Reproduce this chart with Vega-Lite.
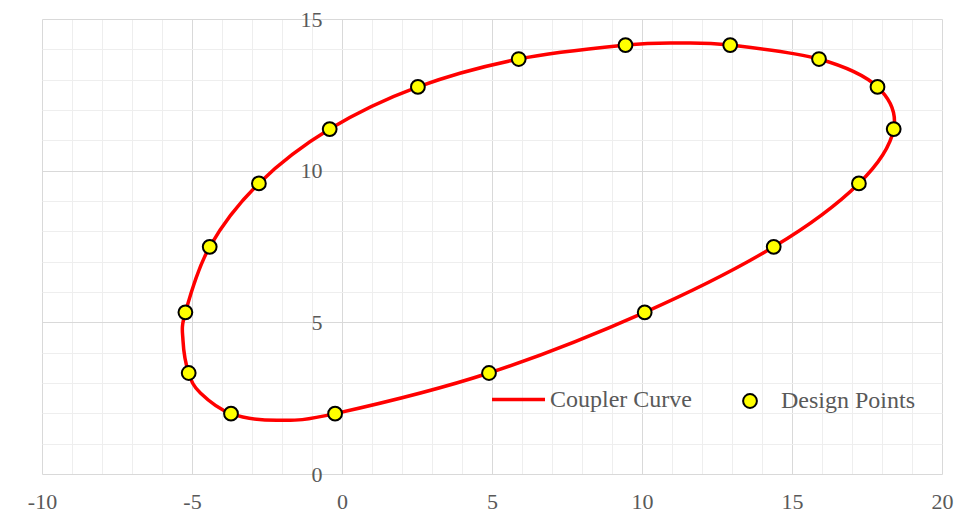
{
  "$schema": "https://vega.github.io/schema/vega-lite/v6.json",
  "width": 900,
  "height": 455,
  "autosize": "none",
  "padding": {"left": 42, "top": 19, "right": 18, "bottom": 43},
  "background": "white",
  "config": {
    "view": {"stroke": null},
    "font": "Liberation Serif",
    "axis": {"labelFont": "Liberation Serif", "labelFontSize": 22, "labelColor": "#595959", "ticks": false, "domain": false, "title": null, "labelFlush": false, "labelOverlap": false}
  },
  "datasets": {
    "curve": [
      {"o": 1, "x": -0.23, "y": 1.99},
      {"o": 2, "x": -2.17, "y": 1.77},
      {"o": 3, "x": -3.70, "y": 1.99},
      {"o": 4, "x": -4.72, "y": 2.67},
      {"o": 5, "x": -5.11, "y": 3.33},
      {"o": 6, "x": -5.30, "y": 4.40},
      {"o": 7, "x": -5.22, "y": 5.33},
      {"o": 8, "x": -4.41, "y": 7.49},
      {"o": 9, "x": -2.77, "y": 9.58},
      {"o": 10, "x": -0.41, "y": 11.37},
      {"o": 11, "x": 2.53, "y": 12.76},
      {"o": 12, "x": 5.89, "y": 13.68},
      {"o": 13, "x": 9.45, "y": 14.14},
      {"o": 14, "x": 11.28, "y": 14.21},
      {"o": 15, "x": 12.94, "y": 14.14},
      {"o": 16, "x": 15.90, "y": 13.68},
      {"o": 17, "x": 17.85, "y": 12.76},
      {"o": 18, "x": 18.39, "y": 11.37},
      {"o": 19, "x": 17.23, "y": 9.58},
      {"o": 20, "x": 14.39, "y": 7.49},
      {"o": 21, "x": 10.09, "y": 5.33},
      {"o": 22, "x": 4.90, "y": 3.33}
    ],
    "design": [
      {"x": -0.23, "y": 1.99},
      {"x": -3.70, "y": 1.99},
      {"x": -5.11, "y": 3.33},
      {"x": -5.22, "y": 5.33},
      {"x": -4.41, "y": 7.49},
      {"x": -2.77, "y": 9.58},
      {"x": -0.41, "y": 11.37},
      {"x": 2.53, "y": 12.76},
      {"x": 5.89, "y": 13.68},
      {"x": 9.45, "y": 14.14},
      {"x": 12.94, "y": 14.14},
      {"x": 15.90, "y": 13.68},
      {"x": 17.85, "y": 12.76},
      {"x": 18.39, "y": 11.37},
      {"x": 17.23, "y": 9.58},
      {"x": 14.39, "y": 7.49},
      {"x": 10.09, "y": 5.33},
      {"x": 4.90, "y": 3.33}
    ]
  },
  "layer": [
    {
      "data": {"name": "curve"},
      "mark": {"type": "line", "interpolate": "cardinal-closed", "tension": 0, "strokeWidth": 3.5, "clip": true},
      "encoding": {
        "x": {"field": "x", "type": "quantitative", "scale": {"domain": [-10, 20], "nice": false, "zero": false},
          "axis": {"orient": "bottom", "values": [-9,-8,-7,-6,-4,-3,-2,-1,1,2,3,4,6,7,8,9,11,12,13,14,16,17,18,19], "labels": false, "grid": true, "gridColor": "#eeeeee", "gridWidth": 1}},
        "y": {"field": "y", "type": "quantitative", "scale": {"domain": [0, 15], "nice": false, "zero": false},
          "axis": {"orient": "left", "values": [1,2,3,4,6,7,8,9,11,12,13,14], "labels": false, "grid": true, "gridColor": "#eeeeee", "gridWidth": 1}},
        "order": {"field": "o", "type": "quantitative"},
        "color": {"datum": "Coupler Curve", "type": "nominal",
          "scale": {"domain": ["Coupler Curve"], "range": ["#ff0000"]},
          "legend": {
            "orient": "none", "legendX": 448, "legendY": 352, "title": null,
            "labelFont": "Liberation Serif", "labelFontSize": 24, "labelColor": "#595959",
            "symbolType": "stroke", "symbolSize": 2809, "symbolStrokeWidth": 3.5, "labelOffset": 3, "padding": 0
          }}
      }
    },
    {
      "data": {"name": "design"},
      "mark": {"type": "point", "filled": true, "shape": "circle", "size": 190, "stroke": "#000000", "strokeWidth": 2, "opacity": 1, "strokeOpacity": 1},
      "encoding": {
        "x": {"field": "x", "type": "quantitative",
          "axis": {"orient": "bottom", "values": [-10,-5,0,5,10,15,20], "grid": true, "gridColor": "#d9d9d9", "gridWidth": 1, "labelPadding": 17, "labelExpr": "'' + datum.value"}},
        "y": {"field": "y", "type": "quantitative",
          "axis": {"orient": "left", "values": [0,5,10,15], "grid": true, "gridColor": "#d9d9d9", "gridWidth": 1, "offset": -300, "labelPadding": 20}},
        "fill": {"datum": "Design Points", "type": "nominal",
          "scale": {"domain": ["Design Points"], "range": ["#ffff00"]},
          "legend": {
            "orient": "none", "legendX": 696, "legendY": 370, "title": null,
            "labelFont": "Liberation Serif", "labelFontSize": 24, "labelColor": "#595959",
            "symbolType": "circle", "symbolSize": 190, "symbolStrokeColor": "#000000", "symbolStrokeWidth": 2, "symbolFillColor": "#ffff00", "labelOffset": 19, "padding": 0
          }}
      }
    }
  ],
  "resolve": {"axis": {"x": "independent", "y": "independent"}}
}
